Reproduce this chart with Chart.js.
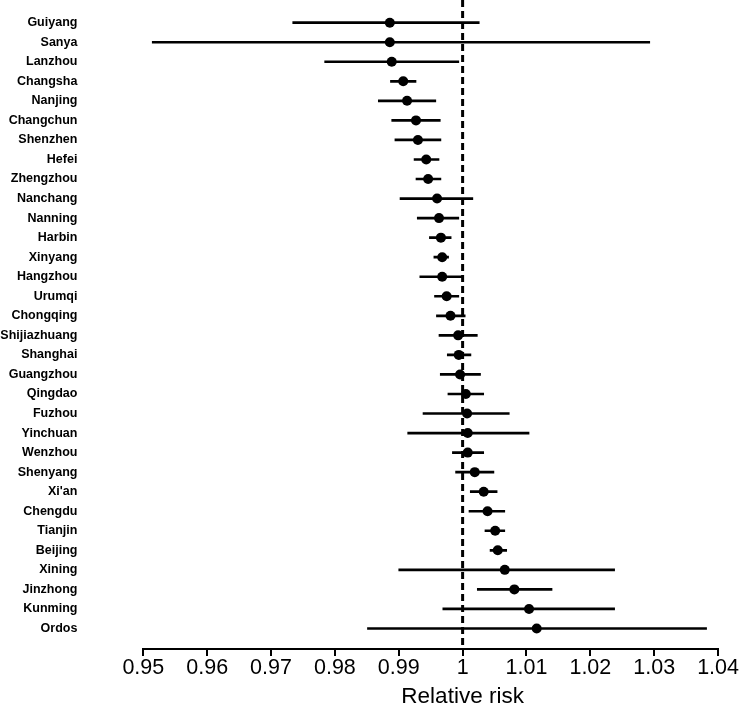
<!DOCTYPE html>
<html>
<head>
<meta charset="utf-8">
<script src="https://cdn.jsdelivr.net/npm/chart.js@4/dist/chart.umd.min.js"></script>
<style>
html,body{margin:0;padding:0;background:#fff;}
#wrap{width:740px;height:711px;}
</style>
</head>
<body>
<div id="wrap"><canvas id="c" width="740" height="711"></canvas></div>
<script>
const cities = ["Guiyang","Sanya","Lanzhou","Changsha","Nanjing","Changchun","Shenzhen","Hefei","Zhengzhou","Nanchang","Nanning","Harbin","Xinyang","Hangzhou","Urumqi","Chongqing","Shijiazhuang","Shanghai","Guangzhou","Qingdao","Fuzhou","Yinchuan","Wenzhou","Shenyang","Xi'an","Chengdu","Tianjin","Beijing","Xining","Jinzhong","Kunming","Ordos"];
const estimates = [0.9886,0.9886,0.9889,0.9907,0.9913,0.9927,0.9930,0.9943,0.9946,0.9960,0.9963,0.9966,0.9968,0.9968,0.9975,0.9981,0.9993,0.9994,0.9996,1.0005,1.0007,1.0008,1.0008,1.0019,1.0033,1.0039,1.0051,1.0055,1.0066,1.0081,1.0104,1.0116];
const lowerCI = [0.9734,0.9514,0.9784,0.9887,0.9868,0.9889,0.9894,0.9924,0.9927,0.9902,0.9929,0.9948,0.9955,0.9933,0.9956,0.9959,0.9963,0.9976,0.9965,0.9977,0.9938,0.9914,0.9984,0.9989,1.0012,1.0010,1.0035,1.0043,0.9900,1.0023,0.9969,0.9851];
const upperCI = [1.0026,1.0293,0.9994,0.9927,0.9958,0.9965,0.9966,0.9963,0.9966,1.0016,0.9994,0.9982,0.9978,1.0001,0.9994,1.0004,1.0023,1.0013,1.0028,1.0033,1.0073,1.0104,1.0033,1.0049,1.0054,1.0066,1.0066,1.0069,1.0238,1.0140,1.0238,1.0382];
const xTicks = [0.95,0.96,0.97,0.98,0.99,1.00,1.01,1.02,1.03,1.04];
const referenceValue = 1;
const xTitle = "Relative risk";

const yMin = -1.16, yMax = cities.length - 1 + 1.05;

const ciData = cities.map((c, i) => ({ y: i, x: [lowerCI[i], upperCI[i]] }));
const pointData = cities.map((c, i) => ({ y: i, x: estimates[i] }));
const refData = [{ x: referenceValue, y: yMin }, { x: referenceValue, y: yMax }];

// Axis title centred under the reference value, as in the original figure
const refTitlePlugin = {
  id: 'refTitle',
  afterDraw(chart) {
    const s = chart.scales.x;
    const ctx = chart.ctx;
    ctx.save();
    ctx.font = "22.5px 'Liberation Sans', Arial, sans-serif";
    ctx.fillStyle = '#000';
    ctx.textAlign = 'center';
    ctx.textBaseline = 'middle';
    ctx.fillText(xTitle, s.getPixelForValue(referenceValue), s.bottom - 14);
    ctx.restore();
  }
};

new Chart(document.getElementById('c'), {
  type: 'bar',
  data: {
    datasets: [
      {
        type: 'line',
        data: refData,
        borderColor: '#000',
        borderWidth: 3,
        borderDash: [7, 4],
        pointRadius: 0,
        fill: false,
        order: 3
      },
      {
        type: 'bar',
        data: ciData,
        backgroundColor: '#000',
        borderWidth: 0,
        barThickness: 2,
        order: 2
      },
      {
        type: 'line',
        data: pointData,
        showLine: false,
        pointRadius: 5,
        pointHoverRadius: 5,
        pointBackgroundColor: '#000',
        pointBorderColor: '#000',
        pointBorderWidth: 0,
        order: 1
      }
    ]
  },
  plugins: [refTitlePlugin],
  options: {
    indexAxis: 'y',
    responsive: false,
    animation: false,
    devicePixelRatio: 1,
    layout: { autoPadding: false, padding: { left: 0, right: 21, top: 0, bottom: 0 } },
    plugins: { legend: { display: false }, tooltip: { enabled: false } },
    scales: {
      x: {
        type: 'linear',
        position: 'bottom',
        offset: false,
        min: xTicks[0],
        max: xTicks[xTicks.length - 1],
        afterBuildTicks: (s) => { s.ticks = xTicks.map(v => ({ value: v })); },
        afterFit: (s) => { s.height = 62; },
        grid: { display: true, offset: false, drawOnChartArea: false, drawTicks: true, tickLength: 7, color: '#000', lineWidth: 2 },
        border: { display: true, color: '#000', width: 2 },
        ticks: {
          autoSkip: false,
          maxRotation: 0,
          padding: 1,
          color: '#000',
          font: { family: "'Liberation Sans', Arial, sans-serif", size: 21.5, lineHeight: 1 },
          callback: (v) => String(Number(Number(v).toFixed(2)))
        },
        title: { display: false }
      },
      y: {
        type: 'linear',
        reverse: true,
        offset: false,
        min: yMin,
        max: yMax,
        afterBuildTicks: (s) => { s.ticks = cities.map((c, i) => ({ value: i })); },
        afterFit: (s) => { s.width = 143.3; s.paddingTop = 0; s.paddingBottom = 0; },
        grid: { display: false, offset: false },
        border: { display: false },
        ticks: {
          autoSkip: false,
          padding: 57.9,
          color: '#000',
          font: { family: "'Liberation Sans', Arial, sans-serif", size: 12.5, weight: 'bold' },
          callback: (v) => cities[v]
        }
      }
    }
  }
});
</script>
</body>
</html>
